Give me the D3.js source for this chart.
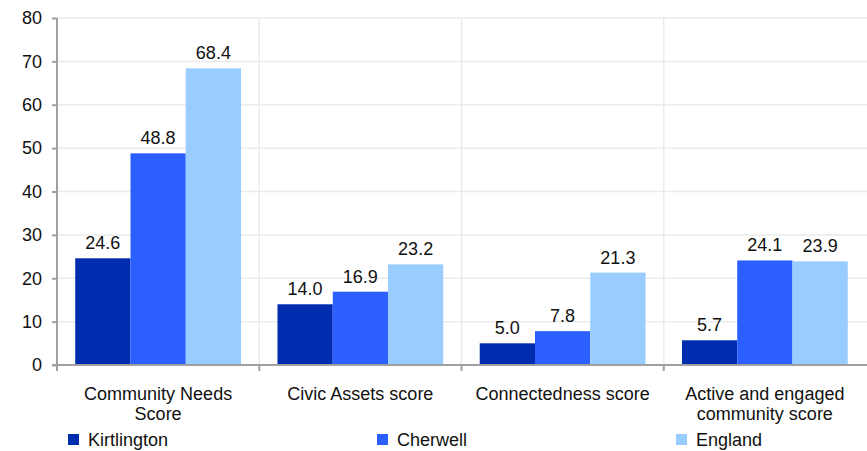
<!DOCTYPE html>
<meta charset="utf-8">
<style>
    body { margin: 0; background: #fff; }
    svg text { font-family: "Liberation Sans", Arial, sans-serif; fill: #111; }
</style>
<body>
<svg width="867" height="451"></svg>
<script src="https://d3js.org/d3.v7.min.js"></script>
<script>
    // valeurs
    const categories = [
        ["Community Needs", "Score"],
        ["Civic Assets score"],
        ["Connectedness score"],
        ["Active and engaged", "community score"]
    ];
    const seriesNames = ["Kirtlington", "Cherwell", "England"];
    const kirtlington = [24.6, 14.0, 5.0, 5.7];
    const cherwell = [48.8, 16.9, 7.8, 24.1];
    const england = [68.4, 23.2, 21.3, 23.9];
    const yTicks = [0, 10, 20, 30, 40, 50, 60, 70, 80];
    const colors = ["#002db0", "#2b5fff", "#99ccff"];

    const svg = d3.select("svg");
    const margin = { top: 18, right: 1, bottom: 86, left: 57 };
    const width = +svg.attr("width");
    const height = +svg.attr("height");

    const values = [kirtlington, cherwell, england];
    const catKeys = categories.map(c => c.join(" "));

    const x0 = d3.scaleBand()
        .domain(catKeys)
        .range([margin.left, width - margin.right])
        .paddingInner(0)
        .paddingOuter(0);

    const x1 = d3.scaleBand()
        .domain(seriesNames)
        .range([0, x0.bandwidth()])
        .paddingOuter(0.33)
        .paddingInner(0);

    const y = d3.scaleLinear()
        .domain([0, 80])
        .range([height - margin.bottom, margin.top]);

    // grille horizontale
    svg.append("g")
        .selectAll("line")
        .data(yTicks.slice(1))
        .join("line")
        .attr("x1", margin.left)
        .attr("x2", width)
        .attr("y1", d => y(d))
        .attr("y2", d => y(d))
        .attr("stroke", "#ebebeb")
        .attr("stroke-width", 1.5);

    // séparateurs verticaux
    svg.append("g")
        .selectAll("line")
        .data(catKeys.slice(1))
        .join("line")
        .attr("x1", d => x0(d))
        .attr("x2", d => x0(d))
        .attr("y1", y(80))
        .attr("y2", y(0))
        .attr("stroke", "#ebebeb")
        .attr("stroke-width", 1.5);

    // barres
    const groups = svg.append("g")
        .selectAll("g")
        .data(catKeys)
        .join("g")
        .attr("transform", d => `translate(${x0(d)},0)`);

    groups.selectAll("rect")
        .data((d, i) => seriesNames.map((s, j) => ({ s, j, v: values[j][i] })))
        .join("rect")
        .attr("x", d => x1(d.s))
        .attr("width", x1.bandwidth())
        .attr("y", d => y(d.v))
        .attr("height", d => y(0) - y(d.v))
        .attr("fill", d => colors[d.j]);

    groups.selectAll("text.val")
        .data((d, i) => seriesNames.map((s, j) => ({ s, j, v: values[j][i] })))
        .join("text")
        .attr("class", "val")
        .attr("x", d => x1(d.s) + x1.bandwidth() / 2)
        .attr("y", d => y(d.v) - 9)
        .attr("text-anchor", "middle")
        .style("font-size", "18px")
        .text(d => d.v.toFixed(1));

    // axe Y
    const yAxis = svg.append("g")
        .attr("transform", `translate(${margin.left},0)`)
        .call(d3.axisLeft(y).tickValues(yTicks).tickSize(5).tickPadding(10));
    yAxis.selectAll("path, line").attr("stroke", "#a0a0a0").attr("stroke-width", 2);
    yAxis.select(".domain").attr("d", `M0,${y(80)}V${y(0)}`);
    yAxis.selectAll("text").style("font-size", "18px").attr("fill", "#111");

    // axe X
    const xAxisG = svg.append("g");
    xAxisG.append("line")
        .attr("x1", margin.left - 5)
        .attr("x2", width)
        .attr("y1", y(0))
        .attr("y2", y(0))
        .attr("stroke", "#a0a0a0")
        .attr("stroke-width", 2);
    xAxisG.selectAll("line.tick")
        .data(catKeys)
        .join("line")
        .attr("class", "tick")
        .attr("x1", d => x0(d))
        .attr("x2", d => x0(d))
        .attr("y1", y(0))
        .attr("y2", y(0) + 6)
        .attr("stroke", "#a0a0a0")
        .attr("stroke-width", 2);

    xAxisG.selectAll("text")
        .data(categories)
        .join("text")
        .attr("x", (d, i) => x0(catKeys[i]) + x0.bandwidth() / 2)
        .attr("y", 400)
        .attr("text-anchor", "middle")
        .style("font-size", "18px")
        .selectAll("tspan")
        .data(d => d)
        .join("tspan")
        .attr("x", function () { return this.parentNode.getAttribute("x"); })
        .attr("dy", (d, i) => i === 0 ? 0 : 20)
        .text(d => d);

    // légende
    const legendX = [68, 377, 676];
    const legend = svg.append("g")
        .selectAll("g")
        .data(seriesNames)
        .join("g")
        .attr("transform", (d, i) => `translate(${legendX[i]},434)`);
    legend.append("rect")
        .attr("width", 11)
        .attr("height", 11)
        .attr("fill", (d, i) => colors[i]);
    legend.append("text")
        .attr("x", 20)
        .attr("y", 12)
        .style("font-size", "18px")
        .text(d => d);
</script>
</body>
